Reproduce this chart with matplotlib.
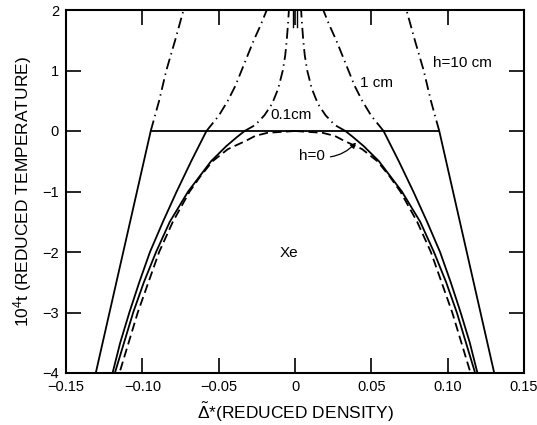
import matplotlib.pyplot as plt

plt.rcParams['font.family'] = ['Liberation Sans', 'DejaVu Sans']
plt.rcParams['mathtext.fontset'] = 'custom'
plt.rcParams['mathtext.rm'] = 'Liberation Sans'
plt.rcParams['mathtext.it'] = 'Liberation Sans'

# coexistence curve, h = 0 (dashed), one half; mirrored for the other side
t_h0 = [0, -0.03, -0.08, -0.16, -0.3, -0.5, -0.75, -1.0, -1.5, -2.0, -2.5, -3.0, -3.5, -4.0]
d_h0 = [0, 0.018, 0.026, 0.032, 0.044, 0.054, 0.062, 0.069, 0.080, 0.089, 0.096, 0.103, 0.109, 0.115]

# branches below t = 0 for finite h (solid)
t_low = [0, -0.1, -0.25, -0.5, -1.0, -1.5, -2.0, -2.5, -3.0, -3.5, -4.0]
d_01cm_low = [0.033, 0.038, 0.045, 0.055, 0.070, 0.082, 0.091, 0.099, 0.106, 0.112, 0.118]
t_1_low = [0, -0.5, -1.0, -1.5, -2.0, -2.5, -3.0, -3.5, -4.0]
d_1cm_low = [0.058, 0.068, 0.0775, 0.0865, 0.095, 0.102, 0.1085, 0.1145, 0.1195]
t_10_low = [0, -1.0, -2.0, -3.0, -4.0]
d_10cm_low = [0.0945, 0.1035, 0.1125, 0.1215, 0.1305]

# branches above t = 0 (dash-dot)
t_10_up = [0, 0.5, 1.0, 1.5, 2.0]
d_10cm_up = [0.0945, 0.089, 0.0843, 0.0785, 0.073]
t_1_up = [0, 0.25, 0.5, 0.75, 1.0, 1.25, 1.5, 1.75, 2.0]
d_1cm_up = [0.058, 0.050, 0.044, 0.039, 0.035, 0.031, 0.027, 0.0225, 0.0185]
t_01_up = [0, 0.1, 0.26, 0.45, 0.7, 1.0, 1.25, 1.5, 1.8, 2.0]
d_01cm_up = [0.033, 0.026, 0.020, 0.015, 0.011, 0.008, 0.0064, 0.0054, 0.0045, 0.004]

# t = 0 segment and the short solid pieces near the centre
d_flat = [-0.0945, 0.0945]
t_flat = [0, 0]
d_centre = 0.0012
t_centre = [1.72, 2.0]

fig = plt.figure(figsize=(5.37, 4.25), dpi=100)
ax = fig.add_axes([66/537, 1-373/425, 458/537, 363/425])

lw = 1.3
dash = dict(color='black', lw=lw, dashes=(5, 2.5))
solid = dict(color='black', lw=lw)
dashdot = dict(color='black', lw=lw, dashes=(6, 2.5, 0.8, 2.5))

for s in (1, -1):
    ax.plot([s*d for d in d_h0], t_h0, **dash)
    ax.plot([s*d for d in d_01cm_low], t_low, **solid)
    ax.plot([s*d for d in d_1cm_low], t_1_low, **solid)
    ax.plot([s*d for d in d_10cm_low], t_10_low, **solid)
    ax.plot([s*d for d in d_10cm_up], t_10_up, **dashdot)
    ax.plot([s*d for d in d_1cm_up], t_1_up, **dashdot)
    ax.plot([s*d for d in d_01cm_up], t_01_up, **dashdot)
    ax.plot([s*d_centre]*2, t_centre, color='black', lw=1.0)
ax.plot(d_flat, t_flat, **solid)

ax.set_xlim(-0.15, 0.15)
ax.set_ylim(-4, 2)
xt = [-0.15, -0.10, -0.05, 0, 0.05, 0.10, 0.15]
ax.set_xticks(xt)
ax.set_xticklabels(['\u22120.15', '\u22120.10', '\u22120.05', '0', '0.05', '0.10', '0.15'])
yt = [-4, -3, -2, -1, 0, 1, 2]
ax.set_yticks(yt)
ax.set_yticklabels(['\u22124', '\u22123', '\u22122', '\u22121', '0', '1', '2'])
ax.tick_params(direction='in', length=11, width=1.2, top=True, right=True,
               labelsize=10.5, pad=5)
for sp in ax.spines.values():
    sp.set_linewidth(1.5)

ax.text(0.110, 1.13, 'h=10 cm', ha='center', va='center', fontsize=11)
ax.text(0.0537, 0.79, '1 cm', ha='center', va='center', fontsize=11)
ax.text(-0.0026, 0.26, '0.1cm', ha='center', va='center', fontsize=11)
ax.text(-0.004, -2.01, 'Xe', ha='center', va='center', fontsize=11)
ax.annotate('h=0', xy=(0.040, -0.19), xytext=(0.0111, -0.405),
            ha='center', va='center', fontsize=11,
            arrowprops=dict(arrowstyle='-|>', color='black', lw=0.9,
                            connectionstyle='arc3,rad=0.3', shrinkA=2, shrinkB=0,
                            mutation_scale=8))

ax.set_xlabel(r'$\tilde{\Delta}$*(REDUCED DENSITY)', fontsize=12.5, labelpad=5)
ax.set_ylabel(r'10$^4$t (REDUCED TEMPERATURE)', fontsize=12.5, labelpad=6)

fig.savefig('out.png', dpi=100)
